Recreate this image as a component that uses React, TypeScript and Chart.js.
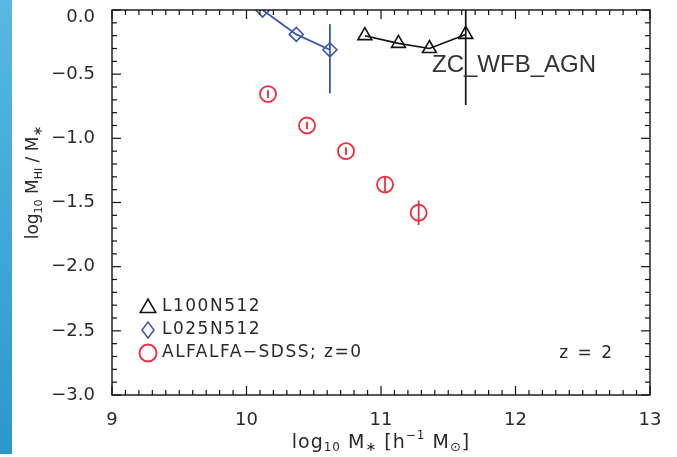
import React, { useEffect, useRef } from "react";
import { Chart, registerables } from "chart.js";

Chart.register(...registerables);

// Axis ranges and tick labels
const xRange = [9, 13];
const yRange = [-3, 0];
const xTickValues = [9, 10, 11, 12, 13];
const yTickValues = [0, -0.5, -1, -1.5, -2, -2.5, -3];
const xMinorStep = 0.1;
const yMinorStep = 0.1;

// L100N512 simulation (triangles)
const l100Mass = [10.88, 11.13, 11.36, 11.63];
const l100Ratio = [-0.2, -0.26, -0.3, -0.19];
const l100ErrLo = [0, 0, 0, 0.55];
const l100ErrHi = [0, 0, 0, 0.55];

// L025N512 simulation (diamonds)
const l025Mass = [10.12, 10.37, 10.62];
const l025Ratio = [0.0, -0.19, -0.31];
const l025ErrLo = [0, 0, 0.34];
const l025ErrHi = [0, 0, 0.2];

// ALFALFA-SDSS observations at z=0 (circles)
const alfalfaMass = [10.16, 10.45, 10.74, 11.03, 11.28];
const alfalfaRatio = [-0.655, -0.9, -1.1, -1.36, -1.58];
const alfalfaErr = [0.03, 0.03, 0.03, 0.065, 0.095];

const legendLabels = ["L100N512", "L025N512", "ALFALFA−SDSS; z=0"];
const modelLabel = "ZC_WFB_AGN";
const redshiftLabel = "z = 2";

const BLACK = "#111111";
const BLUE = "#3b57aa";
const RED = "#ee2c3c";
const TEXT = "#2a2a2a";
const FONT = "'DejaVu Sans', sans-serif";

type Seg = { t: string; size: number; dy: number };

function drawSegs(ctx: CanvasRenderingContext2D, segs: Seg[], cx: number, cy: number) {
  let total = 0;
  for (const s of segs) {
    ctx.font = `${s.size}px ${FONT}`;
    total += ctx.measureText(s.t).width;
  }
  let x = cx - total / 2;
  ctx.textAlign = "left";
  ctx.textBaseline = "middle";
  for (const s of segs) {
    ctx.font = `${s.size}px ${FONT}`;
    ctx.fillText(s.t, x, cy + s.dy);
    x += ctx.measureText(s.t).width;
  }
}

function triPath(ctx: CanvasRenderingContext2D, x: number, y: number, r: number) {
  ctx.beginPath();
  ctx.moveTo(x, y - r);
  ctx.lineTo(x - r * 0.866, y + r * 0.5);
  ctx.lineTo(x + r * 0.866, y + r * 0.5);
  ctx.closePath();
}

const pagePlugin = {
  id: "page",
  beforeDraw(chart: any) {
    const { ctx, width, height } = chart;
    ctx.save();
    ctx.fillStyle = "#ffffff";
    ctx.fillRect(0, 0, width, height);
    const g = ctx.createLinearGradient(0, 0, 0, height);
    g.addColorStop(0, "#58b8e2");
    g.addColorStop(1, "#2c97cc");
    ctx.fillStyle = g;
    ctx.fillRect(0, 0, 12, height - 3);
    ctx.restore();
  },
};

const errorBarPlugin = {
  id: "errorBars",
  afterDatasetsDraw(chart: any) {
    const { ctx, chartArea: a, scales } = chart;
    const xs = scales.x;
    const ys = scales.y;
    ctx.save();
    ctx.beginPath();
    ctx.rect(a.left, a.top, a.right - a.left, a.bottom - a.top);
    ctx.clip();
    const bars = (mass: number[], val: number[], lo: number[], hi: number[], color: string, w: number) => {
      ctx.strokeStyle = color;
      ctx.lineWidth = w;
      mass.forEach((m, i) => {
        if (!lo[i] && !hi[i]) return;
        const px = xs.getPixelForValue(m);
        ctx.beginPath();
        ctx.moveTo(px, ys.getPixelForValue(val[i] + hi[i]));
        ctx.lineTo(px, ys.getPixelForValue(val[i] - lo[i]));
        ctx.stroke();
      });
    };
    bars(l100Mass, l100Ratio, l100ErrLo, l100ErrHi, BLACK, 1.7);
    bars(l025Mass, l025Ratio, l025ErrLo, l025ErrHi, BLUE, 1.8);
    bars(alfalfaMass, alfalfaRatio, alfalfaErr, alfalfaErr, RED, 1.8);
    ctx.restore();
  },
};

const framePlugin = {
  id: "frame",
  afterDraw(chart: any) {
    const { ctx, chartArea: a, scales } = chart;
    const xs = scales.x;
    const ys = scales.y;
    ctx.save();
    ctx.strokeStyle = BLACK;
    ctx.lineWidth = 1.4;
    ctx.strokeRect(a.left, a.top, a.right - a.left, a.bottom - a.top);
    ctx.lineWidth = 1.2;
    const seg = (x1: number, y1: number, x2: number, y2: number) => {
      ctx.beginPath();
      ctx.moveTo(x1, y1);
      ctx.lineTo(x2, y2);
      ctx.stroke();
    };
    const nx = Math.round((xRange[1] - xRange[0]) / xMinorStep);
    for (let i = 0; i <= nx; i++) {
      const v = xRange[0] + i * xMinorStep;
      const px = xs.getPixelForValue(v);
      const len = i % 10 === 0 ? 9 : 5;
      seg(px, a.bottom, px, a.bottom - len);
      seg(px, a.top, px, a.top + len);
    }
    const ny = Math.round((yRange[1] - yRange[0]) / yMinorStep);
    for (let i = 0; i <= ny; i++) {
      const v = yRange[0] + i * yMinorStep;
      const py = ys.getPixelForValue(v);
      const len = i % 5 === 0 ? 9 : 5;
      seg(a.left, py, a.left + len, py);
      seg(a.right, py, a.right - len, py);
    }

    // axis titles
    ctx.fillStyle = TEXT;
    const cx = (a.left + a.right) / 2;
    (ctx as any).letterSpacing = "1px";
    drawSegs(
      ctx,
      [
        { t: "log", size: 19, dy: 0 },
        { t: "10", size: 12, dy: 5 },
        { t: " M", size: 19, dy: 0 },
        { t: "∗", size: 13, dy: 5 },
        { t: " [h", size: 19, dy: 0 },
        { t: "−1", size: 12, dy: -7 },
        { t: " M", size: 19, dy: 0 },
        { t: "⊙", size: 13, dy: 5 },
        { t: "]", size: 19, dy: 0 },
      ],
      cx,
      a.bottom + 48
    );
    (ctx as any).letterSpacing = "0px";
    ctx.save();
    ctx.translate(34, (a.top + a.bottom) / 2 - 20);
    ctx.rotate(-Math.PI / 2);
    drawSegs(
      ctx,
      [
        { t: "log", size: 17, dy: 0 },
        { t: "10", size: 11, dy: 5 },
        { t: " M", size: 17, dy: 0 },
        { t: "HI", size: 11, dy: 5 },
        { t: " / M", size: 17, dy: 0 },
        { t: "∗", size: 13, dy: 5 },
      ],
      0,
      0
    );
    ctx.restore();

    // model name
    ctx.font = `24px 'Liberation Sans', Arial, sans-serif`;
    ctx.textAlign = "left";
    ctx.textBaseline = "middle";
    ctx.fillStyle = "#333333";
    ctx.fillText(modelLabel, 432, 65);

    // legend
    const lx = 148;
    const rows = [307, 330, 353];
    ctx.lineWidth = 1.5;
    ctx.strokeStyle = BLACK;
    triPath(ctx, lx, rows[0] + 1, 9);
    ctx.stroke();
    ctx.strokeStyle = BLUE;
    ctx.beginPath();
    ctx.moveTo(lx, rows[1] - 8);
    ctx.lineTo(lx + 6, rows[1]);
    ctx.lineTo(lx, rows[1] + 8);
    ctx.lineTo(lx - 6, rows[1]);
    ctx.closePath();
    ctx.stroke();
    ctx.strokeStyle = RED;
    ctx.lineWidth = 1.8;
    ctx.beginPath();
    ctx.arc(lx, rows[2], 8.5, 0, Math.PI * 2);
    ctx.stroke();
    (ctx as any).letterSpacing = "1.5px";
    ctx.font = `17px ${FONT}`;
    ctx.fillStyle = TEXT;
    legendLabels.forEach((t, i) => ctx.fillText(t, 162, rows[i]));
    ctx.textAlign = "right";
    (ctx as any).letterSpacing = "2px";
    ctx.fillText(redshiftLabel, 614, 354);
    ctx.restore();
  },
};

function fmtY(v: number) {
  const s = Math.abs(v).toFixed(1);
  // the top label sits just below the frame corner
  if (v === yRange[1]) return ["", s];
  return v < 0 ? "−" + s : s;
}

export default function App() {
  const ref = useRef<HTMLCanvasElement>(null);

  useEffect(() => {
    const canvas = ref.current;
    if (!canvas) return;
    const chart = new Chart(canvas, {
      type: "scatter",
      data: {
        datasets: [
          {
            label: legendLabels[0],
            data: l100Mass.map((m, i) => ({ x: m, y: l100Ratio[i] })),
            showLine: true,
            borderColor: BLACK,
            borderWidth: 1.6,
            pointStyle: "triangle",
            pointRadius: 8,
            pointBorderColor: BLACK,
            pointBackgroundColor: "rgba(0,0,0,0)",
            pointBorderWidth: 1.6,
            clip: 0,
          },
          {
            label: legendLabels[1],
            data: l025Mass.map((m, i) => ({ x: m, y: l025Ratio[i] })),
            showLine: true,
            borderColor: BLUE,
            borderWidth: 1.8,
            pointStyle: "rectRot",
            pointRadius: 7,
            pointBorderColor: BLUE,
            pointBackgroundColor: "rgba(0,0,0,0)",
            pointBorderWidth: 1.6,
            clip: 0,
          },
          {
            label: legendLabels[2],
            data: alfalfaMass.map((m, i) => ({ x: m, y: alfalfaRatio[i] })),
            showLine: false,
            borderColor: RED,
            pointStyle: "circle",
            pointRadius: 8,
            pointBorderColor: RED,
            pointBackgroundColor: "rgba(0,0,0,0)",
            pointBorderWidth: 1.8,
            clip: 0,
          },
        ],
      },
      options: {
        responsive: false,
        devicePixelRatio: 1,
        animation: false,
        layout: { padding: { top: 10, right: 27, left: 0, bottom: 0 } },
        plugins: {
          legend: { display: false },
          tooltip: { enabled: false },
        },
        scales: {
          x: {
            type: "linear",
            min: xRange[0],
            max: xRange[1],
            afterBuildTicks: (s: any) => {
              s.ticks = xTickValues.map((v) => ({ value: v }));
            },
            afterFit: (s: any) => {
              s.height = 62;
              s.paddingLeft = 0;
              s.paddingRight = 0;
            },
            grid: { display: false },
            border: { display: false },
            ticks: {
              padding: 8,
              color: TEXT,
              font: { family: FONT, size: 18, lineHeight: 1 },
              maxRotation: 0,
              callback: (v: any) => String(v),
            },
          },
          y: {
            type: "linear",
            min: yRange[0],
            max: yRange[1],
            afterBuildTicks: (s: any) => {
              s.ticks = yTickValues.map((v) => ({ value: v }));
            },
            afterFit: (s: any) => {
              s.width = 112;
              s.paddingTop = 0;
              s.paddingBottom = 0;
            },
            grid: { display: false },
            border: { display: false },
            ticks: {
              padding: 9,
              color: TEXT,
              font: { family: FONT, size: 18, lineHeight: 0.85 },
              callback: (v: any) => fmtY(Number(v)),
            },
          },
        },
      },
      plugins: [pagePlugin, errorBarPlugin, framePlugin],
    } as any);
    return () => chart.destroy();
  }, []);

  return (
    <div style={{ position: "fixed", left: 0, top: 0, width: 677, height: 457, background: "#fff" }}>
      <canvas ref={ref} width={677} height={457} style={{ display: "block", width: 677, height: 457 }} />
    </div>
  );
}
